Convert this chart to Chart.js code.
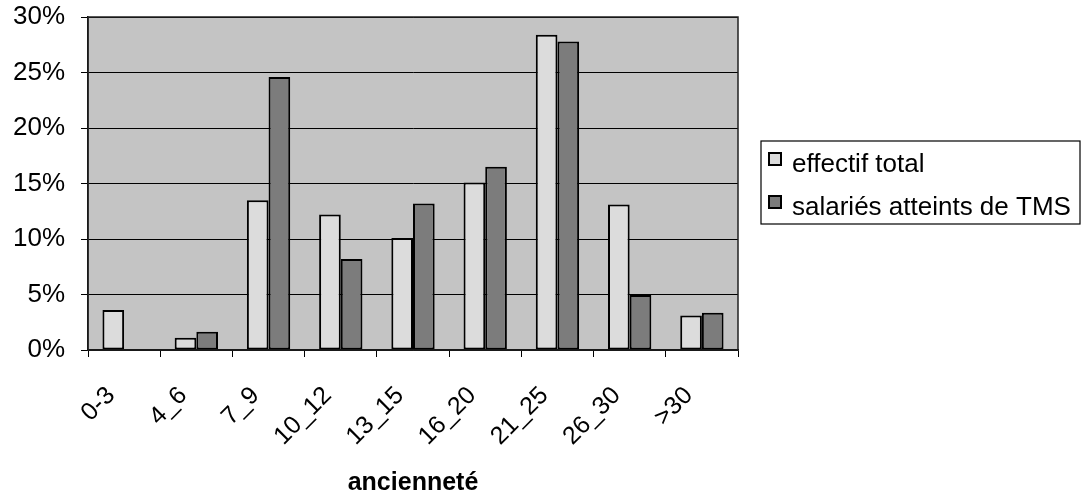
<!DOCTYPE html>
<html>
<head>
<meta charset="utf-8">
<script src="https://cdn.jsdelivr.net/npm/chart.js@4"></script>
<style>
  body { margin: 0; background: #fff; }
</style>
</head>
<body>
<canvas id="graph" width="1086" height="498"></canvas>
<script>
const categories = ["0-3", "4_6", "7_9", "10_12", "13_15", "16_20", "21_25", "26_30", ">30"];
const effectifTotal = [3.6, 1.1, 13.5, 12.2, 10.1, 15.1, 28.4, 13.1, 3.1];
const salariesTMS = [0, 1.65, 24.6, 8.2, 13.2, 16.5, 27.8, 4.95, 3.35];
const yTicks = [0, 5, 10, 15, 20, 25, 30];

const FONT = "'Liberation Sans', Arial, sans-serif";

// grey plot area and its border
const frame = {
  id: "frame",
  beforeDatasetsDraw(chart) {
    const { ctx, chartArea: a } = chart;
    ctx.save();
    ctx.globalCompositeOperation = "destination-over";
    ctx.fillStyle = "#c4c4c4";
    ctx.fillRect(a.left, a.top, a.right - a.left, a.bottom - a.top);
    ctx.restore();
  },
  afterDraw(chart) {
    const { ctx, chartArea: a } = chart;
    ctx.save();
    ctx.strokeStyle = "#222";
    ctx.lineWidth = 1.5;
    ctx.strokeRect(a.left, a.top, a.right - a.left, a.bottom - a.top);
    ctx.restore();
  }
};

// boxed legend to the right of the plot (built-in one is capped in width)
const boxLegend = {
  id: "boxLegend",
  afterDraw(chart) {
    const { ctx, chartArea: a } = chart;
    const x0 = a.right + 23, y0 = 141, x1 = 1080, y1 = 224;
    ctx.save();
    ctx.fillStyle = "#fff";
    ctx.fillRect(x0, y0, x1 - x0, y1 - y0);
    ctx.strokeStyle = "#000";
    ctx.lineWidth = 1.2;
    ctx.strokeRect(x0, y0, x1 - x0, y1 - y0);
    ctx.font = "26px " + FONT;
    ctx.textBaseline = "middle";
    chart.data.datasets.forEach((ds, i) => {
      const y = 152 + i * 43;
      ctx.fillStyle = ds.backgroundColor;
      ctx.fillRect(x0 + 7, y, 14, 14);
      ctx.strokeStyle = "#000";
      ctx.lineWidth = 2;
      ctx.strokeRect(x0 + 8, y + 1, 12, 12);
      ctx.fillStyle = "#000";
      ctx.fillText(ds.label, x0 + 31, y + 13);
    });
    ctx.restore();
  }
};

const ctx = document.getElementById("graph").getContext("2d");

new Chart(ctx, {
  type: "bar",
  data: {
    labels: categories,
    datasets: [
      {
        label: "effectif total",
        data: effectifTotal,
        backgroundColor: "#dcdcdc",
        borderColor: "#000",
        borderWidth: 2,
        borderSkipped: false,
        barPercentage: 1,
        categoryPercentage: 0.6
      },
      {
        label: "salariés atteints de TMS",
        data: salariesTMS,
        backgroundColor: "#7c7c7c",
        borderColor: "#000",
        borderWidth: 2,
        borderSkipped: false,
        barPercentage: 1,
        categoryPercentage: 0.6
      }
    ]
  },
  options: {
    responsive: false,
    animation: false,
    devicePixelRatio: 1,
    layout: { padding: { left: 0, right: 348, top: 17, bottom: 0 } },
    plugins: {
      tooltip: { enabled: false },
      legend: { display: false }
    },
    scales: {
      x: {
        offset: true,
        grid: {
          offset: true,
          drawOnChartArea: false,
          drawTicks: true,
          tickLength: 7,
          color: "#000",
          lineWidth: 1
        },
        border: { color: "#000", width: 1.5 },
        ticks: {
          color: "#000",
          autoSkip: false,
          minRotation: 45,
          maxRotation: 45,
          padding: 24,
          labelOffset: -13,
          font: { family: FONT, size: 25 }
        },
        title: {
          display: true,
          text: "ancienneté",
          color: "#000",
          padding: { top: 4, bottom: 0 },
          font: { family: FONT, size: 25, weight: "bold" }
        },
        afterFit(scale) {
          scale.height = 148;
          scale.paddingTop = 0;
          scale.paddingBottom = 0;
        }
      },
      y: {
        min: 0,
        max: 30,
        afterBuildTicks(scale) { scale.ticks = yTicks.map(v => ({ value: v })); },
        grid: {
          color: "#000",
          lineWidth: 1,
          drawTicks: true,
          tickLength: 7,
          tickColor: "#000"
        },
        border: { color: "#000", width: 1.5 },
        ticks: {
          color: "#000",
          padding: 16,
          font: { family: FONT, size: 26 },
          callback: v => v + "%"
        },
        afterFit(scale) {
          scale.width = 88;
          scale.paddingTop = 0;
          scale.paddingBottom = 0;
        }
      }
    }
  },
  plugins: [frame, boxLegend]
});
</script>
</body>
</html>
